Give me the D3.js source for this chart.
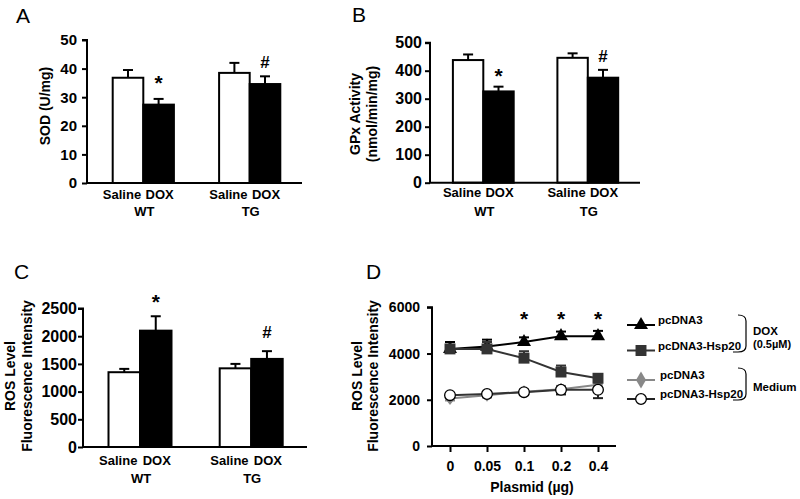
<!DOCTYPE html>
<html>
<head>
<meta charset="utf-8">
<script src="https://cdn.jsdelivr.net/npm/d3@7"></script>
<style>
  body { margin: 0; background: #fff; }
  svg { display: block; }
  text { font-family: "Liberation Sans", Arial, Helvetica, sans-serif; font-weight: bold; fill: #000; }
  .letter { font-weight: normal; font-size: 21px; }
</style>
</head>
<body>
<svg id="chart" width="800" height="499"></svg>
<script>
// ---------------- DATA ----------------
const groups = ["WT", "TG"];
const treatments = ["Saline", "DOX"];

// Panel A: SOD (U/mg)
const sodMean = { WT: [36.8, 27.4], TG: [38.5, 34.6] };
const sodErr  = { WT: [2.7, 2.0],  TG: [3.5, 2.7] };
const sodTicks = [0, 10, 20, 30, 40, 50];

// Panel B: GPx activity (nmol/min/mg)
const gpxMean = { WT: [438, 326], TG: [446, 375] };
const gpxErr  = { WT: [20, 17],   TG: [16, 28] };
const gpxTicks = [0, 100, 200, 300, 400, 500];

// Panel C: ROS level
const rosMean = { WT: [1350, 2100], TG: [1420, 1590] };
const rosErr  = { WT: [60, 260],    TG: [80, 140] };
const rosTicks = [0, 500, 1000, 1500, 2000, 2500];

// Panel D: ROS vs plasmid
const plasmid = ["0", "0.05", "0.1", "0.2", "0.4"];
const doxPc      = [4200, 4300, 4500, 4750, 4750];
const doxPcUp    = [300, 300, 200, 200, 230];
const doxHsp     = [4200, 4200, 3800, 3200, 2930];
const doxHspUp   = [150, 300, 300, 280, 100];
const medPc      = [2050, 2200, 2350, 2450, 2650];
const medPcErr   = [80, 100, 100, 150, 100];
const medHsp     = [2200, 2250, 2330, 2430, 2430];
const medHspDown = [50, 100, 100, 200, 360];
const dTicks = [0, 2000, 4000, 6000];
const sigPoints = ["0.1", "0.2", "0.4"];

// ---------------- DRAW ----------------
const svg = d3.select("#chart");

function letter(t, x, y) {
  svg.append("text").attr("class", "letter").attr("x", x).attr("y", y).text(t);
}

function barPanel(cfg) {
  const g = svg.append("g");
  const y = d3.scaleLinear().domain(cfg.domain).range([cfg.y0, cfg.y1]);
  const gx = d3.scalePoint().domain(groups).range(cfg.groupRange);
  const bx = d3.scaleBand().domain(treatments).range([-cfg.bw, cfg.bw]).padding(0);

  groups.forEach(grp => {
    treatments.forEach((t, i) => {
      const v = cfg.mean[grp][i], e = cfg.err[grp][i];
      const x0 = gx(grp) + bx(t), w = bx.bandwidth();
      g.append("rect").attr("x", x0).attr("y", y(v)).attr("width", w).attr("height", y(0) - y(v))
        .attr("fill", i === 0 ? "#fff" : "#000").attr("stroke", "#000").attr("stroke-width", 2);
      const cx = x0 + w / 2;
      g.append("line").attr("x1", cx).attr("x2", cx).attr("y1", y(v)).attr("y2", y(v + e))
        .attr("stroke", "#000").attr("stroke-width", 2);
      g.append("line").attr("x1", cx - 5).attr("x2", cx + 5).attr("y1", y(v + e)).attr("y2", y(v + e))
        .attr("stroke", "#000").attr("stroke-width", 2);
      g.append("text").attr("x", cx + (i === 0 ? -6 : 1)).attr("y", cfg.labY)
        .attr("text-anchor", "middle").attr("font-size", 13).text(t);
    });
    g.append("text").attr("x", gx(grp) + 1).attr("y", cfg.grpY)
      .attr("text-anchor", "middle").attr("font-size", 13).text(grp);
  });

  cfg.marks.forEach(m => {
    const v = cfg.mean[m.grp][1], e = cfg.err[m.grp][1];
    const cx = gx(m.grp) + bx("DOX") + bx.bandwidth() / 2;
    g.append("text").attr("x", cx).attr("y", y(v + e) - m.off)
      .attr("text-anchor", "middle").attr("font-size", m.sym === "*" ? 21 : 17).text(m.sym);
  });

  const ax = g.append("g").attr("transform", `translate(${cfg.ax},0)`)
    .call(d3.axisLeft(y).tickValues(cfg.ticks).tickSize(5).tickPadding(cfg.pad).tickFormat(d3.format("d")));
  ax.attr("font-family", null);
  ax.select(".domain").attr("stroke-width", 2).attr("d", `M-5,${cfg.y1}H0V${cfg.y0}`);
  ax.selectAll(".tick line").attr("stroke-width", 2);
  ax.selectAll(".tick text").attr("font-size", cfg.tickFs).attr("fill", "#000");
  g.append("line").attr("x1", cfg.ax - 1).attr("x2", cfg.axEnd).attr("y1", y(0)).attr("y2", y(0))
    .attr("stroke", "#000").attr("stroke-width", 2);

  cfg.title.forEach(t => {
    g.append("text").attr("transform", `translate(${t.x},${cfg.titleY}) rotate(-90)`)
      .attr("text-anchor", "middle").attr("font-size", 14).text(t.s);
  });
}

letter("A", 16, 23);
barPanel({
  domain: [0, 50], y0: 183, y1: 40, ticks: sodTicks, mean: sodMean, err: sodErr, tickFs: 15,
  groupRange: [143.3, 249.7], bw: 30.6, ax: 87, axEnd: 302, pad: 5,
  labY: 199, grpY: 216, marks: [{ grp: "WT", sym: "*", off: 9 }, { grp: "TG", sym: "#", off: 8 }],
  title: [{ x: 50, s: "SOD (U/mg)" }], titleY: 106
});

letter("B", 352, 22);
barPanel({
  domain: [0, 500], y0: 182.7, y1: 42.7, ticks: gpxTicks, mean: gpxMean, err: gpxErr, tickFs: 16,
  groupRange: [483.3, 587.8], bw: 30.4, ax: 430, axEnd: 640, pad: 3,
  labY: 197, grpY: 216, marks: [{ grp: "WT", sym: "*", off: 4 }, { grp: "TG", sym: "#", off: 8 }],
  title: [{ x: 360, s: "GPx Activity" }, { x: 377, s: "(nmol/min/mg)" }], titleY: 114
});

letter("C", 14, 279);
barPanel({
  domain: [0, 2500], y0: 447, y1: 308.5, ticks: rosTicks, mean: rosMean, err: rosErr, tickFs: 16,
  groupRange: [140, 251.2], bw: 31.5, ax: 83, axEnd: 307, pad: 1,
  labY: 465, grpY: 483, marks: [{ grp: "WT", sym: "*", off: 7 }, { grp: "TG", sym: "#", off: 13 }],
  title: [{ x: 15, s: "ROS Level" }, { x: 32, s: "Fluorescence Intensity" }], titleY: 376
});

// ---------------- Panel D ----------------
letter("D", 366, 279);
(function () {
  const g = svg.append("g");
  const x = d3.scalePoint().domain(plasmid).range([450, 598]);
  const y = d3.scaleLinear().domain([0, 6000]).range([446, 307.3]);

  const ax = g.append("g").attr("transform", "translate(432,0)")
    .call(d3.axisLeft(y).tickValues(dTicks).tickSize(5).tickPadding(7).tickFormat(d3.format("d")));
  ax.attr("font-family", null);
  ax.select(".domain").attr("stroke-width", 2).attr("d", `M-5,${y(6000)}H0V${y(0)}`);
  ax.selectAll(".tick line").attr("stroke-width", 2);
  ax.selectAll(".tick text").attr("font-size", 14).attr("fill", "#000");

  const bx = g.append("g").attr("transform", `translate(0,${y(0)})`)
    .call(d3.axisBottom(x).tickSize(6).tickPadding(9));
  bx.attr("font-family", null);
  bx.select(".domain").attr("stroke-width", 2).attr("d", "M431,0H616");
  bx.selectAll(".tick line").attr("stroke-width", 2);
  bx.selectAll(".tick text").attr("font-size", 14).attr("fill", "#000");

  g.append("text").attr("x", 532).attr("y", 492).attr("text-anchor", "middle")
    .attr("font-size", 14).text("Plasmid (\u00b5g)");
  g.append("text").attr("transform", "translate(362,376) rotate(-90)").attr("text-anchor", "middle")
    .attr("font-size", 14).text("ROS Level");
  g.append("text").attr("transform", "translate(378,376) rotate(-90)").attr("text-anchor", "middle")
    .attr("font-size", 14).text("Fluorescence Intensity");

  const line = d3.line().x((d, i) => x(plasmid[i])).y(d => y(d));

  function errs(vals, up, down, color) {
    vals.forEach((v, i) => {
      const cx = x(plasmid[i]);
      const hi = v + (up ? up[i] : 0), lo = v - (down ? down[i] : 0);
      g.append("line").attr("x1", cx).attr("x2", cx).attr("y1", y(lo)).attr("y2", y(hi))
        .attr("stroke", color).attr("stroke-width", 2);
      if (up) g.append("line").attr("x1", cx - 5).attr("x2", cx + 5).attr("y1", y(hi)).attr("y2", y(hi))
        .attr("stroke", color).attr("stroke-width", 2);
      if (down) g.append("line").attr("x1", cx - 5).attr("x2", cx + 5).attr("y1", y(lo)).attr("y2", y(lo))
        .attr("stroke", color).attr("stroke-width", 2);
    });
  }
  const sym = {
    tri: d3.symbol().type(d3.symbolTriangle).size(85),
    sq: d3.symbol().type(d3.symbolSquare).size(120),
    circ: d3.symbol().type(d3.symbolCircle).size(90)
  };
  const diamondPath = (w, h) => `M0,${-h}L${w},0L0,${h}L${-w},0Z`;

  function marker(p, m, big) {
    if (m === "tri") p.attr("d", sym.tri()).attr("fill", "#000");
    if (m === "sq") p.attr("d", sym.sq()).attr("fill", "#333");
    if (m === "dia") p.attr("d", diamondPath(5, big ? 8.5 : 6.5)).attr("fill", "#888");
    if (m === "circ") p.attr("d", sym.circ()).attr("fill", "#fff").attr("stroke", "#000").attr("stroke-width", 1.3);
  }

  function series(vals, up, down, color, lineColor, m) {
    errs(vals, up, down, color);
    g.append("path").attr("d", line(vals)).attr("fill", "none").attr("stroke", lineColor).attr("stroke-width", 2);
    vals.forEach((v, i) => {
      marker(g.append("path").attr("transform", `translate(${x(plasmid[i])},${y(v)})`), m, false);
    });
  }
  series(medPc, medPcErr, medPcErr, "#888", "#888", "dia");
  series(medHsp, null, medHspDown, "#222", "#333", "circ");
  series(doxPc, doxPcUp, null, "#000", "#000", "tri");
  series(doxHsp, doxHspUp, null, "#333", "#333", "sq");

  sigPoints.forEach(p => {
    g.append("text").attr("x", x(p)).attr("y", 326).attr("text-anchor", "middle").attr("font-size", 21).text("*");
  });

  // legend
  const leg = [
    { y: 325, s: "pcDNA3", color: "#000", m: "tri" },
    { y: 350.5, s: "pcDNA3-Hsp20", color: "#333", m: "sq" },
    { y: 380, s: "pcDNA3", color: "#888", m: "dia" },
    { y: 399, s: "pcDNA3-Hsp20", color: "#222", m: "circ" }
  ];
  leg.forEach(l => {
    g.append("line").attr("x1", 627).attr("x2", 655).attr("y1", l.y).attr("y2", l.y)
      .attr("stroke", l.color).attr("stroke-width", 2);
    marker(g.append("path").attr("transform", `translate(641,${l.y})`), l.m, true);
    g.append("text").attr("x", l.m === "dia" || l.m === "circ" ? 660 : 658).attr("y", l.y - 1)
      .attr("font-size", 11.5).text(l.s);
  });
  const bracket = (y0, y1) => `M738,${y0}Q746,${y0} 746,${y0 + 6}L746,${y1 - 6}Q746,${y1} 738,${y1}L733,${y1}`;
  g.append("path").attr("d", bracket(315, 352)).attr("fill", "none").attr("stroke", "#000").attr("stroke-width", 1.2);
  g.append("path").attr("d", bracket(368, 400)).attr("fill", "none").attr("stroke", "#000").attr("stroke-width", 1.2);
  g.append("text").attr("x", 753).attr("y", 335).attr("font-size", 11.5).text("DOX");
  g.append("text").attr("x", 753).attr("y", 348).attr("font-size", 11).text("(0.5\u00b5M)");
  g.append("text").attr("x", 753).attr("y", 391).attr("font-size", 11.5).text("Medium");
})();
</script>
</body>
</html>
